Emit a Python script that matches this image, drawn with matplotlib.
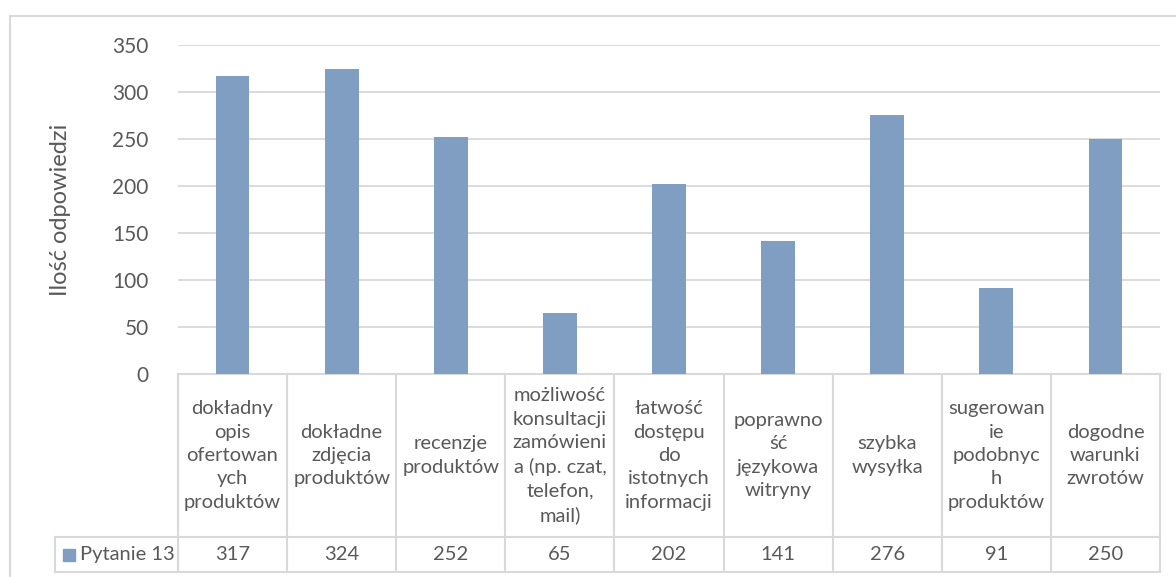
import matplotlib
matplotlib.use("Agg")
import matplotlib.pyplot as plt
from matplotlib.lines import Line2D
from matplotlib.patches import Rectangle
import matplotlib.transforms as mtransforms

# --- data -------------------------------------------------------------
categories = [
    "dokładny\nopis\nofertowan\nych\nproduktów",
    "dokładne\nzdjęcia\nproduktów",
    "recenzje\nproduktów",
    "możliwość\nkonsultacji\nzamówieni\na (np. czat,\ntelefon,\nmail)",
    "łatwość\ndostępu\ndo\nistotnych\ninformacji",
    "poprawno\nść\njęzykowa\nwitryny",
    "szybka\nwysyłka",
    "sugerowan\nie\npodobnyc\nh\nproduktów",
    "dogodne\nwarunki\nzwrotów",
]
values = [317, 324, 252, 65, 202, 141, 276, 91, 250]
series_name = "Pytanie 13"
y_ticks = [0, 50, 100, 150, 200, 250, 300, 350]
y_label = "Ilość odpowiedzi"

# --- style --------------------------------------------------------------
plt.rcParams["font.family"] = ["Lato", "DejaVu Sans"]
TEXT = "#595959"
LINE = "#D9D9D9"
BAR = "#809EC2"
FS = 14.5

W, H = 1176, 577
fig = plt.figure(figsize=(W / 100, H / 100), dpi=100)

# plot area in pixels
L, R, T, B = 178, 1160, 45, 374
ax = fig.add_axes([L / W, 1 - B / H, (R - L) / W, (B - T) / H])

def axx(px):
    return (px - L) / (R - L)

def axy(py):
    return (B - py) / (B - T)

x = list(range(len(values)))
ax.bar(x, values, width=0.31, color=BAR, zorder=3)
ax.set_xlim(-0.5, len(values) - 0.5)
ax.set_ylim(0, 350)
ax.set_yticks(y_ticks)
ax.set_yticklabels([str(v) for v in y_ticks], fontsize=15, color=TEXT)
ax.set_xticks([])
ax.tick_params(axis="y", length=0, pad=21)
ax.grid(axis="y", color=LINE, linewidth=1.3, zorder=0)
for s in ("top", "right", "left"):
    ax.spines[s].set_visible(False)
ax.spines["bottom"].set_color(LINE)
ax.spines["bottom"].set_linewidth(1.5)
ax.set_ylabel(y_label, fontsize=17, color=TEXT)
ax.yaxis.set_label_coords(axx(71), 0.5)

# --- data table under the axis ----------------------------------------
tr = ax.transAxes
row_sep, tbl_bottom, legend_left = 537, 572, 55

def hline(py, x0, x1):
    ax.add_line(Line2D([axx(x0), axx(x1)], [axy(py), axy(py)], transform=tr,
                       color=LINE, linewidth=1.5, clip_on=False))

def vline(px, y0, y1):
    ax.add_line(Line2D([axx(px), axx(px)], [axy(y0), axy(y1)], transform=tr,
                       color=LINE, linewidth=1.5, clip_on=False))

hline(row_sep, legend_left, R)
hline(tbl_bottom, legend_left, R)
vline(legend_left, row_sep, tbl_bottom)
n = len(values)
for i in range(n + 1):
    px = L + (R - L) * i / n
    vline(px, B, tbl_bottom)

blend = mtransforms.blended_transform_factory(ax.transData, ax.transAxes)
for xi, (cat, v) in enumerate(zip(categories, values)):
    ax.text(xi, axy((B + row_sep) / 2), cat, transform=blend, ha="center",
            va="center", fontsize=FS, color=TEXT, linespacing=1.45)
    ax.text(xi, axy((row_sep + tbl_bottom) / 2), str(v), transform=blend,
            ha="center", va="center", fontsize=FS, color=TEXT)

# legend key inside the table
ax.add_patch(Rectangle((axx(63), axy(561)), axx(75) - axx(63), axy(549) - axy(561),
                       transform=tr, color=BAR, clip_on=False))
ax.text(axx(80), axy((row_sep + tbl_bottom) / 2), series_name, transform=tr,
        ha="left", va="center", fontsize=FS, color=TEXT)

# chart border
fig.add_artist(Line2D([10 / W, 1], [1 - 16 / H, 1 - 16 / H],
                      transform=fig.transFigure, color=LINE, linewidth=1.5))
fig.add_artist(Line2D([10 / W, 10 / W], [1 - 16 / H, 0],
                      transform=fig.transFigure, color=LINE, linewidth=1.5))

fig.savefig("out.png", dpi=100)
